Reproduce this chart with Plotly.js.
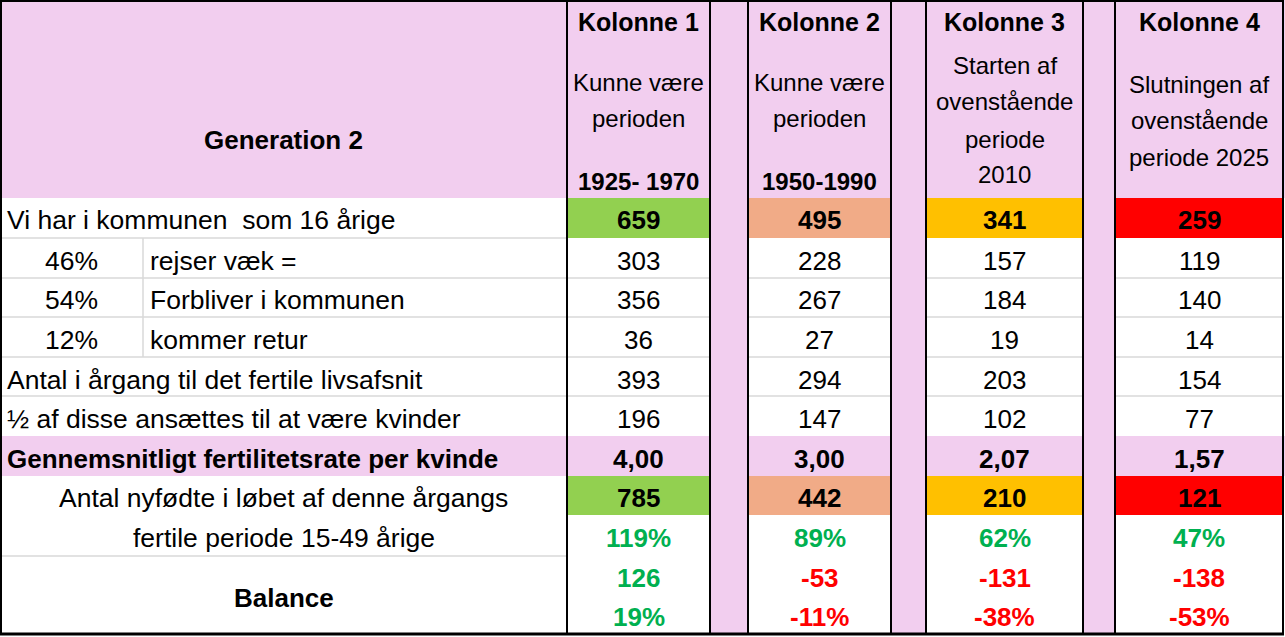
<!DOCTYPE html>
<html>
<head>
<meta charset="utf-8">
<script src="https://cdn.plot.ly/plotly-3.0.1.min.js"></script>
<style>html,body{margin:0;padding:0;background:#fff;}#chart{width:1285px;height:637px;}</style>
</head>
<body>
<div id="chart"></div>
<script>
// ---------------- DATA ----------------
const columnTitles = ['Kolonne 1', 'Kolonne 2', 'Kolonne 3', 'Kolonne 4'];
const columnSubtitles = [
  ['Kunne være', 'perioden'],
  ['Kunne være', 'perioden'],
  ['Starten af', 'ovenstående', 'periode', '2010'],
  ['Slutningen af', 'ovenstående', 'periode 2025']
];
const columnPeriods = ['1925- 1970', '1950-1990', '', ''];
const tableTitle = 'Generation 2';

const rowLabels = [
  'Vi har i kommunen  som 16 årige',
  'rejser væk =',
  'Forbliver i kommunen',
  'kommer retur',
  'Antal i årgang til det fertile livsafsnit',
  '½ af disse ansættes til at være kvinder',
  'Gennemsnitligt fertilitetsrate per kvinde',
  'Antal nyfødte i løbet af denne årgangs',
  'fertile periode 15-49 årige',
  'Balance'
];
const sharePercents = [46, 54, 12];

const sixteenYearOlds = [659, 495, 341, 259];
const moveAway       = [303, 228, 157, 119];
const remain         = [356, 267, 184, 140];
const returning      = [36, 27, 19, 14];
const fertileCohort  = [393, 294, 203, 154];
const women          = [196, 147, 102, 77];
const fertilityRate  = [4.00, 3.00, 2.07, 1.57];
const newborns       = [785, 442, 210, 121];
const newbornRatio   = [119, 89, 62, 47];
const balance        = [126, -53, -131, -138];
const balancePct     = [19, -11, -38, -53];

// ---------------- LAYOUT / STYLE ----------------
const W = 1285, H = 637;
const FONT = 'Liberation Sans, Arial, sans-serif';
const PINK = '#F2CEEF';
const GRID = '#D9D9D9';
const HILITE = ['#92D050', '#F1AB87', '#FFC000', '#FF0000'];
const POS = '#00B050', NEG = '#FF0000';
const LABEL_SIZE = 26.5, VALUE_SIZE = 26;

// column geometry (left block + 4 value columns separated by pink spacer columns)
const pctCol = [0, 143];
const labelCol = [143, 567];
const valCols = [[567, 710], [748, 891], [926, 1083], [1115, 1283]];
const gapCols = [[710, 748], [891, 926], [1083, 1115]];
// row geometry
const headerBottom = 198;
const rowEdges = [198, 238, 278, 317, 357, 396, 436, 476, 515, 556, 634];
const textY = [220, 261, 300, 340, 380, 419, 459, 498, 538, 578, 617];
const bottom = 634;

const shapes = [];
const ann = [];
function rect(x0, x1, y0, y1, color) {
  shapes.push({type: 'rect', xref: 'x', yref: 'y', x0, x1, y0, y1, fillcolor: color, line: {width: 0}, layer: 'below'});
}
function line(x0, y0, x1, y1, color, w) {
  shapes.push({type: 'line', xref: 'x', yref: 'y', x0, y0, x1, y1, line: {color, width: w}, layer: 'above'});
}
function text(x, y, t, opts) {
  opts = opts || {};
  ann.push({
    xref: 'x', yref: 'y', x, y, text: t, showarrow: false,
    xanchor: opts.anchor || 'center', yanchor: 'middle',
    font: {family: FONT, size: opts.size || VALUE_SIZE, color: opts.color || '#000', weight: opts.bold ? 'bold' : 'normal'}
  });
}
const cx = c => (c[0] + c[1]) / 2;
const fmtRate = v => v.toFixed(2).replace('.', ',');
const fmtPct = v => v + '%';

// ----- fills -----
rect(0, W, 0, headerBottom, PINK);                     // header band
rect(0, W, rowEdges[6], rowEdges[7], PINK);            // fertility row
gapCols.forEach(g => rect(g[0], g[1], 0, bottom, PINK));
valCols.forEach((c, i) => {
  rect(c[0], c[1], rowEdges[0], rowEdges[1], HILITE[i]);
  rect(c[0], c[1], rowEdges[7], rowEdges[8], HILITE[i]);
});

// ----- gridlines -----
[1, 2, 3, 4, 5].forEach(k => line(0, rowEdges[k], labelCol[1], rowEdges[k], GRID, 1.5));
line(0, rowEdges[9], labelCol[1], rowEdges[9], GRID, 1.5);
valCols.forEach(c => [2, 3, 4, 5].forEach(k => line(c[0], rowEdges[k], c[1], rowEdges[k], GRID, 1.5)));
line(pctCol[1], rowEdges[1], pctCol[1], rowEdges[4], GRID, 1.5);

// ----- black borders -----
line(1, 0, 1, bottom + 1, '#000', 2);
line(0, 1, W - 1, 1, '#000', 2);
line(0, bottom, W - 1, bottom, '#000', 3);
valCols.forEach(c => { line(c[0], 0, c[0], bottom, '#000', 2); line(c[1], 0, c[1], bottom, '#000', 2); });

// ----- header text -----
text(cx([0, 567]), 140, tableTitle, {bold: true, size: 26});
const subY = [[82, 118], [82, 118], [65, 101, 139, 174], [84, 120, 157]];
valCols.forEach((c, i) => {
  text(cx(c), 22, columnTitles[i], {bold: true, size: 25});
  columnSubtitles[i].forEach((s, j) => text(cx(c), subY[i][j], s, {size: 24}));
  if (columnPeriods[i]) text(cx(c), 181, columnPeriods[i], {bold: true, size: 24});
});

// ----- row labels -----
text(5, textY[0], rowLabels[0], {anchor: 'left', size: LABEL_SIZE});
sharePercents.forEach((p, k) => {
  text(cx(pctCol), textY[k + 1], fmtPct(p), {size: LABEL_SIZE});
  text(labelCol[0] + 5, textY[k + 1], rowLabels[k + 1], {anchor: 'left', size: LABEL_SIZE});
});
text(5, textY[4], rowLabels[4], {anchor: 'left', size: LABEL_SIZE});
text(5, textY[5], rowLabels[5], {anchor: 'left', size: LABEL_SIZE});
text(5, textY[6], rowLabels[6], {anchor: 'left', bold: true, size: 26});
text(cx([0, 567]), textY[7], rowLabels[7], {size: LABEL_SIZE});
text(cx([0, 567]), textY[8], rowLabels[8], {size: LABEL_SIZE});
text(cx([0, 567]), (textY[9] + textY[10]) / 2, rowLabels[9], {bold: true});

// ----- values -----
valCols.forEach((c, i) => {
  const x = cx(c);
  text(x, textY[0], String(sixteenYearOlds[i]), {bold: true});
  text(x, textY[1], String(moveAway[i]));
  text(x, textY[2], String(remain[i]));
  text(x, textY[3], String(returning[i]));
  text(x, textY[4], String(fertileCohort[i]));
  text(x, textY[5], String(women[i]));
  text(x, textY[6], fmtRate(fertilityRate[i]), {bold: true});
  text(x, textY[7], String(newborns[i]), {bold: true});
  text(x, textY[8], fmtPct(newbornRatio[i]), {bold: true, color: POS});
  text(x, textY[9], String(balance[i]), {bold: true, color: balance[i] >= 0 ? POS : NEG});
  text(x, textY[10], fmtPct(balancePct[i]), {bold: true, color: balancePct[i] >= 0 ? POS : NEG});
});

const layout = {
  width: W, height: H,
  margin: {l: 0, r: 0, t: 0, b: 0},
  paper_bgcolor: '#fff', plot_bgcolor: '#fff',
  xaxis: {range: [0, W], visible: false, fixedrange: true},
  yaxis: {range: [H, 0], visible: false, fixedrange: true},
  shapes, annotations: ann, showlegend: false
};
Plotly.newPlot('chart', [{x: [], y: [], type: 'scatter', mode: 'markers', hoverinfo: 'skip'}], layout, {staticPlot: true, displayModeBar: false});
</script>
</body>
</html>
